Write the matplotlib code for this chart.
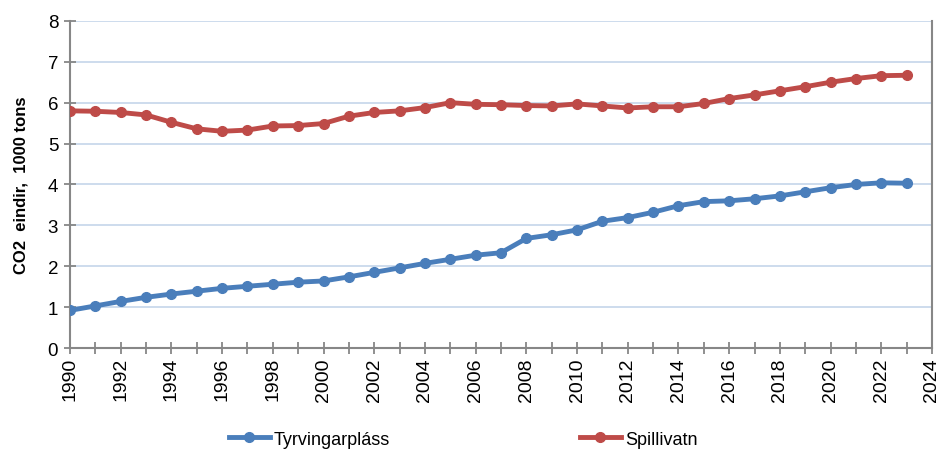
import matplotlib
matplotlib.use("Agg")
import matplotlib.pyplot as plt
from matplotlib.ticker import MultipleLocator
from matplotlib.lines import Line2D

years = list(range(1990, 2024))
tyrving = [0.92, 1.03, 1.14, 1.24, 1.32, 1.39, 1.46, 1.51, 1.56, 1.61, 1.64, 1.74,
           1.85, 1.96, 2.07, 2.17, 2.27, 2.33, 2.68, 2.77, 2.89, 3.10, 3.19, 3.32,
           3.48, 3.58, 3.60, 3.65, 3.72, 3.82, 3.92, 4.00, 4.04, 4.03]
spilli = [5.80, 5.79, 5.76, 5.70, 5.52, 5.36, 5.30, 5.33, 5.43, 5.44, 5.49, 5.67,
          5.76, 5.80, 5.88, 6.00, 5.96, 5.95, 5.93, 5.92, 5.97, 5.92, 5.87, 5.90,
          5.90, 5.98, 6.10, 6.19, 6.29, 6.39, 6.50, 6.59, 6.66, 6.67]
series_names = ["Tyrvingarpláss", "Spillivatn"]
colors = ["#4a7ebb", "#be4b48"]

plt.rcParams['font.family'] = ['Liberation Sans', 'DejaVu Sans']

fig = plt.figure(figsize=(9.41, 4.56), dpi=100)
ax = fig.add_axes([0.0744, 0.2346, 0.9160, 0.7174])

for vals, name, c in zip([tyrving, spilli], series_names, colors):
    ax.plot(years, vals, color=c, lw=3.5, marker='o', ms=7, label=name,
            solid_capstyle='round', zorder=3)

ax.set_xlim(1990, 2024)
ax.set_ylim(0, 8)
ax.xaxis.set_major_locator(MultipleLocator(2))
ax.xaxis.set_minor_locator(MultipleLocator(1))
ax.yaxis.set_major_locator(MultipleLocator(1))
ax.grid(axis='y', color='#c5d6ea', lw=1.2, zorder=0)
ax.set_axisbelow(True)

ax.spines['top'].set_visible(False)
for s in ['left', 'bottom', 'right']:
    ax.spines[s].set_color('#878787')
    ax.spines[s].set_linewidth(1.5)

ax.tick_params(axis='x', which='both', direction='inout', length=9, width=1.3,
               color='#878787', labelsize=14, rotation=90, pad=2)
ax.tick_params(axis='y', direction='inout', length=9, width=1.3, color='#878787',
               labelsize=13.5, pad=4)
ax.set_ylabel("CO2  eindir,  1000 tons", fontsize=12, fontweight='bold', labelpad=14)

handles = [Line2D([0], [0], color=c, lw=3.5, marker='o', ms=7) for c in colors]
fig.legend(handles, series_names, loc='center', bbox_to_anchor=(0.492, 0.035),
           ncol=2, frameon=False, fontsize=13, handlelength=2.3, columnspacing=10.5,
           handletextpad=0.2)

fig.savefig("out.png", dpi=100)
